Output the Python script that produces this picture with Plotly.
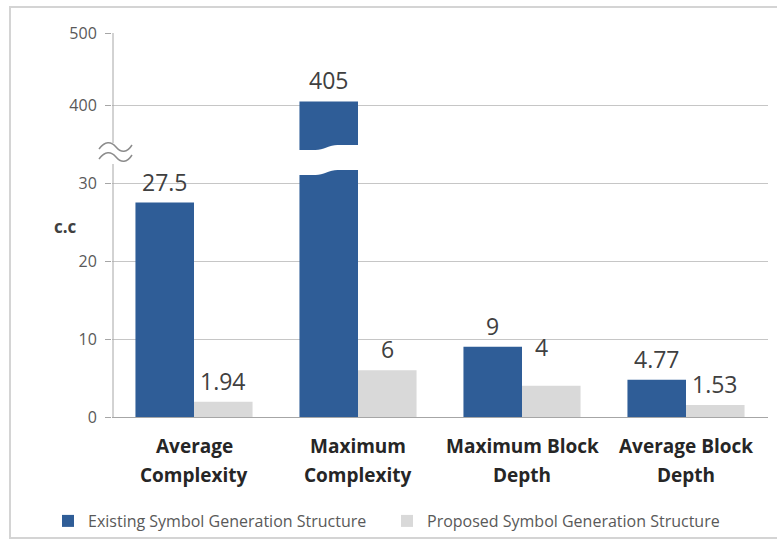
import plotly.graph_objects as go

# ---- data ----
categories = ["Average<br>Complexity", "Maximum<br>Complexity",
              "Maximum Block<br>Depth", "Average Block<br>Depth"]
existing = [27.5, 405, 9, 4.77]
proposed = [1.94, 6, 4, 1.53]
series_names = ["Existing Symbol Generation Structure",
                "Proposed Symbol Generation Structure"]
lower_ticks = [0, 10, 20, 30]
upper_ticks = [400, 500]

# ---- styling / geometry ----
BLUE = "#2f5d97"
GRAY = "#d9d9d9"
GRID = "#c6c6c6"
TXT = "#595959"
FONT = "Open Sans"
W, H = 777, 544
L, R, T, B = 112, 768, 33, 417          # plot area in pixels
PW, PH = R - L, B - T
BAR_W = 0.357


def fx(px):
    return (px - L) / PW


def fy(py):
    return (B - py) / PH


# broken axis: lower panel 0..~32, upper panel ~335..500
low_top_px, up_bot_px = 168, 152
low_dom = [0, fy(low_top_px)]
up_dom = [fy(up_bot_px), 1]
low_scale = (B - 183) / 30.0              # px per unit
up_scale = (105 - T) / 100.0
low_range = [0, (B - low_top_px) / low_scale]
up_range = [500 - (up_bot_px - T) / up_scale, 500]

fig = go.Figure()
for ax in ("y", "y2"):
    fig.add_trace(go.Bar(x=categories, y=existing, name=series_names[0],
                         marker=dict(color=BLUE, line_width=0),
                         width=BAR_W, offset=-BAR_W, yaxis=ax,
                         showlegend=(ax == "y"), legendgroup="a"))
    fig.add_trace(go.Bar(x=categories, y=proposed, name=series_names[1],
                         marker=dict(color=GRAY, line_width=0),
                         width=BAR_W, offset=0, yaxis=ax,
                         showlegend=(ax == "y"), legendgroup="b"))

annos = []

# value labels
label_nudge = {(1, 2): (-10, 18)}  # lift one label clear of its neighbour
for s, (vals, off) in enumerate(((existing, -BAR_W / 2), (proposed, BAR_W / 2))):
    for i, v in enumerate(vals):
        yref = "y" if v <= low_range[1] else "y2"
        dx, dy = label_nudge.get((s, i), (0, 0))
        annos.append(dict(x=i + off, y=v, xref="x", yref=yref,
                          text=f"{v:g}", showarrow=False,
                          yanchor="bottom", xshift=dx, yshift=3 + dy,
                          font=dict(family=FONT, size=23, color="#404040")))

# category labels, one annotation per line for wider line spacing
for i, cat in enumerate(categories):
    for k, line in enumerate(cat.split("<br>")):
        annos.append(dict(x=i, y=fy(446 + 29 * k), xref="x", yref="paper",
                          text=f"<b>{line}</b>", showarrow=False,
                          yanchor="middle",
                          font=dict(family=FONT, size=19, color="#262626")))

annos.append(dict(x=fx(52), y=fy(227), xref="paper", yref="paper",
                  text="<b>c.c</b>", showarrow=False,
                  font=dict(family=FONT, size=17, color="#404040")))

shapes = []
# outer frame
shapes.append(dict(type="rect", xref="paper", yref="paper",
                   x0=fx(10), x1=fx(800), y0=fy(538), y1=fy(7),
                   line=dict(color="#d4d4d4", width=2), layer="below"))
# vertical axis line, interrupted at the break
for a, b in ((T, 143), (164, B)):
    shapes.append(dict(type="line", xref="paper", yref="paper",
                       x0=fx(113), x1=fx(113), y0=fy(a), y1=fy(b),
                       line=dict(color="#a6a6a6", width=1)))


def tilde(py):
    pts = [(99, py + 2), (105, py - 6), (111, py - 6), (116, py),
           (121, py + 6), (127, py + 6), (132, py - 2)]
    p = [(fx(x), fy(y)) for x, y in pts]
    return (f"M {p[0][0]},{p[0][1]} C {p[1][0]},{p[1][1]} {p[2][0]},{p[2][1]} {p[3][0]},{p[3][1]} "
            f"C {p[4][0]},{p[4][1]} {p[5][0]},{p[5][1]} {p[6][0]},{p[6][1]}")


for py in (147, 157):
    shapes.append(dict(type="path", xref="paper", yref="paper", path=tilde(py),
                       line=dict(color="#8c8c8c", width=1.5)))

# wavy cut through the tall bar
i_tall = existing.index(max(existing))
bx0 = (i_tall - BAR_W + 0.5) / 4 - 0.004
bx1 = (i_tall + 0.5) / 4 + 0.002
bw = bx1 - bx0
xa, xb = bx0 + 0.3 * bw, bx0 + 0.65 * bw
top_l, top_r, bot_l, bot_r = fy(150), fy(145), fy(175), fy(170)
cut = (f"M {bx0},{top_l} L {xa},{top_l} C {xa + 0.12 * bw},{top_l} {xb - 0.12 * bw},{top_r} {xb},{top_r} "
       f"L {bx1},{top_r} L {bx1},{bot_r} L {xb},{bot_r} "
       f"C {xb - 0.12 * bw},{bot_r} {xa + 0.12 * bw},{bot_l} {xa},{bot_l} L {bx0},{bot_l} Z")
shapes.append(dict(type="path", xref="paper", yref="paper", path=cut,
                   fillcolor="white", line=dict(width=0)))

axis_common = dict(showgrid=True, gridcolor=GRID, gridwidth=1, zeroline=False,
                   ticks="outside", ticklen=6, tickcolor="#a6a6a6",
                   showline=False, tickfont=dict(family=FONT, size=16, color=TXT),
                   ticklabelstandoff=5)

fig.update_layout(
    width=W, height=H,
    margin=dict(l=L, r=W - R, t=T, b=H - B, autoexpand=False),
    paper_bgcolor="white", plot_bgcolor="white",
    barmode="overlay",
    xaxis=dict(showline=True, linecolor="#a6a6a6", linewidth=1,
               showgrid=False, ticks="", range=[-0.5, 3.5],
               showticklabels=False),
    yaxis=dict(domain=low_dom, range=low_range, tickvals=lower_ticks, **axis_common),
    yaxis2=dict(domain=up_dom, range=up_range, tickvals=upper_ticks, anchor="x",
                **axis_common),
    legend=dict(orientation="h", x=fx(48), xanchor="left", y=fy(521),
                yanchor="middle", font=dict(family=FONT, size=16, color=TXT),
                bgcolor="rgba(0,0,0,0)",
                itemwidth=30, entrywidth=294, tracegroupgap=0),
    annotations=annos, shapes=shapes, showlegend=True,
)

fig.write_html("out.html")
